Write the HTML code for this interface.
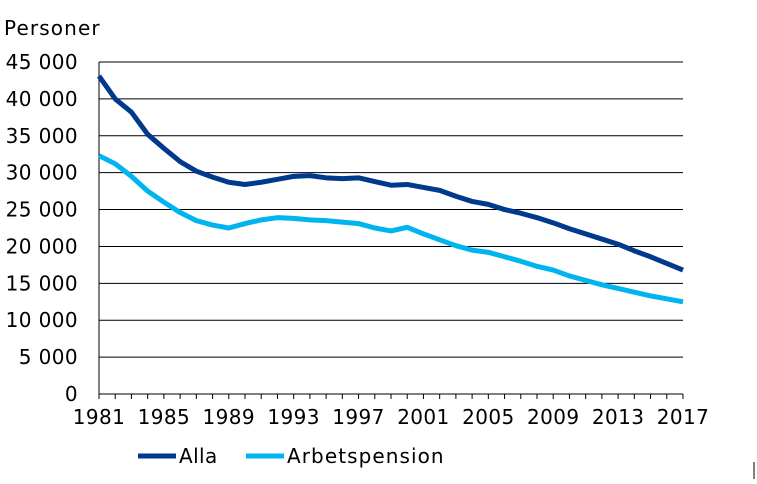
<!DOCTYPE html>
<html><head><meta charset="utf-8"><style>
body{margin:0;background:#fff;width:757px;height:479px;overflow:hidden}
text{font-family:"DejaVu Sans","Liberation Sans",sans-serif;font-size:20px;fill:#000;letter-spacing:0.4px}
</style></head><body>
<svg id="s" width="757" height="479" xmlns="http://www.w3.org/2000/svg"></svg>
<script>
const s=document.getElementById('s');
const A=[43100,40000,38200,35200,33300,31500,30200,29400,28700,28400,28700,29100,29500,29600,29300,29200,29300,28800,28300,28400,28000,27600,26800,26100,25700,25000,24500,23900,23200,22400,21700,21000,20300,19400,18600,17700,16800];
const B=[32300,31200,29500,27500,26000,24600,23500,22900,22500,23100,23600,23900,23800,23600,23500,23300,23100,22500,22100,22600,21700,20900,20100,19500,19200,18600,18000,17300,16800,16000,15400,14800,14300,13800,13300,12900,12500];
const X0=99,X1=683,Y0=394,Y45=62;
const x=i=>X0+i*(X1-X0)/36, y=v=>Y0-v*(Y0-Y45)/45000;
let h='';
for(let k=1;k<=9;k++){const yy=y(k*5000);h+=`<line x1="${X0}" x2="${X1}" y1="${yy}" y2="${yy}" stroke="#000" stroke-width="1"/>`;}
for(let k=0;k<=9;k++){const v=k*5000;const t=v==0?'0':(Math.floor(v/1000)+' 000');h+=`<text x="78" y="${y(v)+7}" text-anchor="end">${t}</text>`;}
h+=`<line x1="${X0}" x2="${X0}" y1="${Y45}" y2="${Y0}" stroke="#000"/><line x1="${X0}" x2="${X1}" y1="${Y0}" y2="${Y0}" stroke="#000"/>`;
for(let i=0;i<=36;i++){h+=`<line x1="${x(i)}" x2="${x(i)}" y1="${Y0}" y2="${Y0+5}" stroke="#000"/>`;}
for(let yr=1981;yr<=2017;yr+=4){h+=`<text x="${x(yr-1981)}" y="424" text-anchor="middle">${yr}</text>`;}
h+=`<text x="4" y="35" textLength="96">Personer</text>`;
const p=(d,c)=>`<polyline fill="none" stroke="${c}" stroke-width="5" stroke-linejoin="round" points="${d.map((v,i)=>x(i)+','+y(v)).join(' ')}"/>`;
h+=p(B,'#00b4f0')+p(A,'#003a8c');
h+=`<line x1="138" x2="176" y1="456" y2="456" stroke="#003a8c" stroke-width="5"/><text x="179" y="463">Alla</text>`;
h+=`<line x1="246" x2="284" y1="456" y2="456" stroke="#00b4f0" stroke-width="5"/><text x="287" y="463" textLength="157">Arbetspension</text>`;
h+=`<line x1="754" x2="754" y1="462" y2="479" stroke="#000"/>`;
s.innerHTML=h;
</script>
</body></html>
